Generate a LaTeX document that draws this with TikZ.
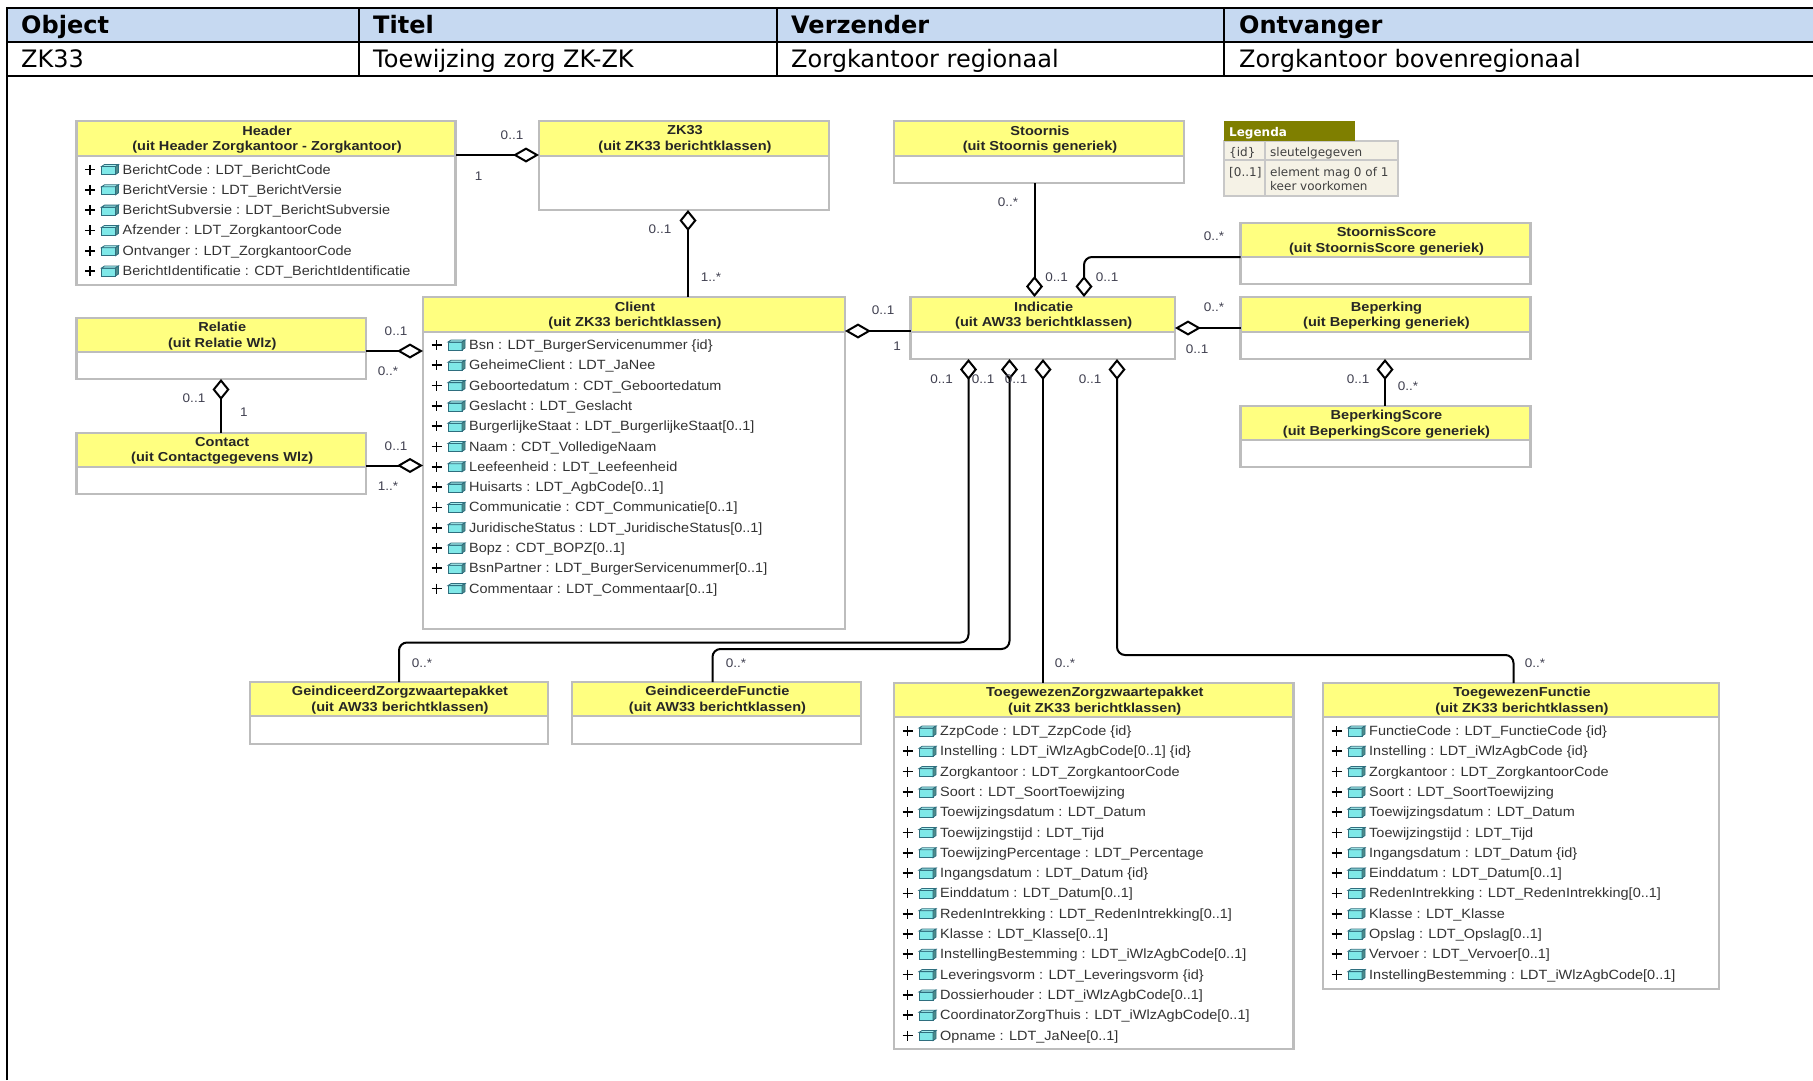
\documentclass[tikz,border=0pt]{standalone}
\usepackage{fontspec}
\setmainfont[FakeStretch=1.08,BoldFeatures={FakeStretch=1.12}]{Liberation Sans}
\newfontfamily\tablefont{DejaVu Sans}
\newfontfamily\legendfont{DejaVu Sans}
\usetikzlibrary{arrows.meta}
\definecolor{tblhead}{HTML}{C6D9F1}
\definecolor{classyellow}{HTML}{FFFF80}
\definecolor{classedge}{HTML}{BDBDBD}
\definecolor{legolive}{HTML}{7F7F00}
\definecolor{legcream}{HTML}{F5F2E6}
\definecolor{legedge}{HTML}{C8C8C8}
\definecolor{iconfill}{HTML}{7FE8E8}
\definecolor{iconedge}{HTML}{2F6F7F}
\definecolor{multtext}{HTML}{404050}
\tikzset{
  tblcell/.style={anchor=north west,inner sep=0pt,outer sep=0pt},
  tblhd/.style={anchor=base west,inner sep=0pt,font=\tablefont\fontsize{24}{28}\selectfont\bfseries},
  tbltx/.style={anchor=base west,inner sep=0pt,font=\tablefont\fontsize{24}{28}\selectfont},
  tblrule/.style={line width=2.4pt,black},
  boxbody/.style={draw=classedge,line width=2.2pt,fill=white,anchor=north west,inner sep=0pt,outer sep=0pt},
  boxtitle/.style={draw=classedge,line width=2.2pt,fill=classyellow,anchor=north west,inner sep=0pt,outer sep=0pt},
  boxlabel/.style={inner sep=0pt,align=center,font=\fontsize{13}{15.5}\selectfont\bfseries,text=black!85},
  attrtext/.style={anchor=base west,inner sep=0pt,font=\fontsize{13.4}{15}\selectfont,text=black!80},
  mult/.style={inner sep=0pt,font=\fontsize{12.5}{14}\selectfont,text=multtext},
  conn/.style={line width=2pt,black,rounded corners=8pt},
  aggh/.style={{Diamond[open,fill=white,length=26pt,width=15pt,line width=2pt]}-},
  aggv/.style={{Diamond[open,fill=white,length=21pt,width=17pt,line width=2pt]}-},
  legcell/.style={draw=legedge,line width=1.5pt,fill=legcream,anchor=north west,inner sep=0pt,outer sep=0pt},
  legtext/.style={anchor=base west,inner sep=0pt,font=\legendfont\fontsize{12}{14}\selectfont,text=black!75},
  pics/attricon/.style={code={
    \draw[iconedge,line width=.8pt,fill=iconfill] (0,-3) rectangle (14,5);
    \draw[iconedge,line width=.8pt,fill=iconfill!70!white] (0,-3) -- (3,-5) -- (17,-5) -- (14,-3) -- cycle;
    \draw[iconedge,line width=.8pt,fill=iconfill!60!black] (14,-3) -- (17,-5) -- (17,3) -- (14,5) -- cycle;
  }},
  pics/attrplus/.style={code={
    \draw[black,line width=1.7pt] (-5,0) -- (5,0) (0,-5) -- (0,5);
  }},
}
\newcommand{\umlclass}[8]{%
  \node[boxbody,minimum width={(#3-#2)*1pt},minimum height={(#6-#4)*1pt}] (#1) at (#2,#4) {};
  \node[boxtitle,minimum width={(#3-#2)*1pt},minimum height={(#5-#4)*1pt}] (#1-t) at (#2,#4) {};
  \node[boxlabel] (#1-l) at ({(#2+#3)/2+1},{(#4+#5)/2+1}) {#7\\#8};
}
\newcommand{\attrs}[4]{%
  \foreach \t [count=\n from 0] in {#4} {
    \pgfmathsetmacro\yy{#3+\n*20.3}
    \pic at (#2+13.5,\yy) {attrplus};
    \pic at (#2+25,\yy) {attricon};
    \node[attrtext] (#1-a\n) at (#2+46,\yy+4.5) {\t};
  }
}
\begin{document}
\begin{tikzpicture}[x=1pt,y=-1pt]
\useasboundingbox (0,0) rectangle (1813,1080);
\fill[white] (0,0) rectangle (1813,1080);
% ---- top table
\node[tblcell,fill=tblhead,minimum width=1806pt,minimum height=35pt] (thead) at (7,7) {};
\node[tbltx,tblhd] (t1) at (21,33) {Object};
\node[tbltx,tblhd] (t2) at (373,33) {Titel};
\node[tbltx,tblhd] (t3) at (791,33) {Verzender};
\node[tbltx,tblhd] (t4) at (1239,33) {Ontvanger};
\node[tbltx] (v1) at (21,67) {ZK33};
\node[tbltx] (v2) at (373,67) {Toewijzing zorg ZK-ZK};
\node[tbltx] (v3) at (791,67) {Zorgkantoor regionaal};
\node[tbltx] (v4) at (1239,67) {Zorgkantoor bovenregionaal};
\draw[tblrule] (7,1080) -- (7,8) -- (1813,8);
\draw[tblrule] (7,42) -- (1813,42);
\draw[tblrule] (7,76) -- (1813,76);
\draw[line width=1.8pt] (359,8) -- (359,76);
\draw[line width=1.8pt] (777,8) -- (777,76);
\draw[line width=1.8pt] (1224,8) -- (1224,76);
% ---- classes
\umlclass{hdr}{76.5}{455.5}{121}{156}{285}{Header}{(uit Header Zorgkantoor - Zorgkantoor)}
\umlclass{zk}{539}{829}{121}{156}{210}{ZK33}{(uit ZK33 berichtklassen)}
\umlclass{sto}{894}{1184}{121}{156}{183}{Stoornis}{(uit Stoornis generiek)}
\umlclass{sts}{1240.5}{1530.5}{223}{257}{284}{StoornisScore}{(uit StoornisScore generiek)}
\umlclass{bep}{1240.5}{1530.5}{297}{332}{359}{Beperking}{(uit Beperking generiek)}
\umlclass{bps}{1240.5}{1530.5}{406}{440}{467}{BeperkingScore}{(uit BeperkingScore generiek)}
\umlclass{ind}{910.5}{1175}{297}{332}{359}{Indicatie}{(uit AW33 berichtklassen)}
\umlclass{cli}{423}{845}{297}{332}{629}{Client}{(uit ZK33 berichtklassen)}
\umlclass{rel}{76.5}{366}{318}{352}{379}{Relatie}{(uit Relatie Wlz)}
\umlclass{con}{76.5}{366}{433}{467}{494}{Contact}{(uit Contactgegevens Wlz)}
\umlclass{gzz}{250}{548}{682}{716}{744}{GeindiceerdZorgzwaartepakket}{(uit AW33 berichtklassen)}
\umlclass{gfu}{572}{861}{682}{716}{744}{GeindiceerdeFunctie}{(uit AW33 berichtklassen)}
\umlclass{tzz}{894}{1293.5}{683}{717}{1049}{ToegewezenZorgzwaartepakket}{(uit ZK33 berichtklassen)}
\umlclass{tfu}{1323}{1719}{683}{717}{989}{ToegewezenFunctie}{(uit ZK33 berichtklassen)}
% ---- attributes
\attrs{hdr}{76.5}{169.5}{
  {BerichtCode : LDT\_BerichtCode},
  {BerichtVersie : LDT\_BerichtVersie},
  {BerichtSubversie : LDT\_BerichtSubversie},
  {Afzender : LDT\_ZorgkantoorCode},
  {Ontvanger : LDT\_ZorgkantoorCode},
  {BerichtIdentificatie : CDT\_BerichtIdentificatie}}
\attrs{cli}{423}{345}{
  {Bsn : LDT\_BurgerServicenummer \{id\}},
  {GeheimeClient : LDT\_JaNee},
  {Geboortedatum : CDT\_Geboortedatum},
  {Geslacht : LDT\_Geslacht},
  {BurgerlijkeStaat : LDT\_BurgerlijkeStaat[0..1]},
  {Naam : CDT\_VolledigeNaam},
  {Leefeenheid : LDT\_Leefeenheid},
  {Huisarts : LDT\_AgbCode[0..1]},
  {Communicatie : CDT\_Communicatie[0..1]},
  {JuridischeStatus : LDT\_JuridischeStatus[0..1]},
  {Bopz : CDT\_BOPZ[0..1]},
  {BsnPartner : LDT\_BurgerServicenummer[0..1]},
  {Commentaar : LDT\_Commentaar[0..1]}}
\attrs{tzz}{894}{731}{
  {ZzpCode : LDT\_ZzpCode \{id\}},
  {Instelling : LDT\_iWlzAgbCode[0..1] \{id\}},
  {Zorgkantoor : LDT\_ZorgkantoorCode},
  {Soort : LDT\_SoortToewijzing},
  {Toewijzingsdatum : LDT\_Datum},
  {Toewijzingstijd : LDT\_Tijd},
  {ToewijzingPercentage : LDT\_Percentage},
  {Ingangsdatum : LDT\_Datum \{id\}},
  {Einddatum : LDT\_Datum[0..1]},
  {RedenIntrekking : LDT\_RedenIntrekking[0..1]},
  {Klasse : LDT\_Klasse[0..1]},
  {InstellingBestemming : LDT\_iWlzAgbCode[0..1]},
  {Leveringsvorm : LDT\_Leveringsvorm \{id\}},
  {Dossierhouder : LDT\_iWlzAgbCode[0..1]},
  {CoordinatorZorgThuis : LDT\_iWlzAgbCode[0..1]},
  {Opname : LDT\_JaNee[0..1]}}
\attrs{tfu}{1323}{731}{
  {FunctieCode : LDT\_FunctieCode \{id\}},
  {Instelling : LDT\_iWlzAgbCode \{id\}},
  {Zorgkantoor : LDT\_ZorgkantoorCode},
  {Soort : LDT\_SoortToewijzing},
  {Toewijzingsdatum : LDT\_Datum},
  {Toewijzingstijd : LDT\_Tijd},
  {Ingangsdatum : LDT\_Datum \{id\}},
  {Einddatum : LDT\_Datum[0..1]},
  {RedenIntrekking : LDT\_RedenIntrekking[0..1]},
  {Klasse : LDT\_Klasse},
  {Opslag : LDT\_Opslag[0..1]},
  {Vervoer : LDT\_Vervoer[0..1]},
  {InstellingBestemming : LDT\_iWlzAgbCode[0..1]}}
% ---- legend
\node[legcell,minimum width=41pt,minimum height=19pt] (lc1) at (1224,141) {};
\node[legcell,minimum width=133pt,minimum height=19pt] (lc2) at (1265,141) {};
\node[legcell,minimum width=41pt,minimum height=36pt] (lc3) at (1224,160) {};
\node[legcell,minimum width=133pt,minimum height=36pt] (lc4) at (1265,160) {};
\node[anchor=north west,fill=legolive,inner sep=0pt,minimum width=131pt,minimum height=20pt] (lt) at (1224,121) {};
\node[legtext,text=white,font=\legendfont\fontsize{12}{14}\selectfont\bfseries] (ltt) at (1229,136) {Legenda};
\node[legtext] (l1) at (1229,156) {\{id\}};
\node[legtext] (l2) at (1270,156) {sleutelgegeven};
\node[legtext] (l3) at (1229,176) {[0..1]};
\node[legtext] (l4) at (1270,176) {element mag 0 of 1};
\node[legtext] (l5) at (1270,190) {keer voorkomen};
% ---- connectors
\coordinate (r1) at (968.5,642.5);
\coordinate (r2) at (1009.5,649);
\coordinate (r3) at (1117,655);
\coordinate (r4) at (1084,257);
\draw[conn,aggh] (zk.west |- 0,155) -- (hdr.east |- 0,155);
\draw[conn,aggv] (zk.south -| 688,0) -- (cli.north -| 688,0);
\draw[conn,aggv] (ind.north -| 1034.5,0) -- (sto.south -| 1034.5,0);
\draw[conn,aggv] (ind.north -| r4) -- (r4) -- (sts.west |- r4);
\draw[conn,aggh] (ind.east |- 0,328) -- (bep.west |- 0,328);
\draw[conn,aggh] (cli.east |- 0,331) -- (ind.west |- 0,331);
\draw[conn,aggv] (bep.south -| 1385,0) -- (bps.north -| 1385,0);
\draw[conn,aggh] (cli.west |- 0,351) -- (rel.east |- 0,351);
\draw[conn,aggh] (cli.west |- 0,465.5) -- (con.east |- 0,465.5);
\draw[conn,aggv] (rel.south -| 221,0) -- (con.north -| 221,0);
\draw[conn,aggv] (ind.south -| r1) -- (r1) -- (r1 -| 399,0) -- (gzz.north -| 399,0);
\draw[conn,aggv] (ind.south -| r2) -- (r2) -- (r2 -| 712.5,0) -- (gfu.north -| 712.5,0);
\draw[conn,aggv] (ind.south -| 1043,0) -- (tzz.north -| 1043,0);
\draw[conn,aggv] (ind.south -| r3) -- (r3) -- (r3 -| 1513.5,0) -- (tfu.north -| 1513.5,0);
% ---- multiplicities
\node[mult] (m1) at (512,135) {0..1};
\node[mult] (m2) at (478.5,176) {1};
\node[mult] (m3) at (660,229) {0..1};
\node[mult] (m4) at (711,277) {1..*};
\node[mult] (m5) at (1008,202) {0..*};
\node[mult] (m6) at (1056.5,277) {0..1};
\node[mult] (m7) at (1214,236) {0..*};
\node[mult] (m8) at (1107,277) {0..1};
\node[mult] (m9) at (1214,307) {0..*};
\node[mult] (m10) at (1197,349) {0..1};
\node[mult] (m11) at (883,310) {0..1};
\node[mult] (m12) at (897,346) {1};
\node[mult] (m13) at (1358,379) {0..1};
\node[mult] (m14) at (1408,386) {0..*};
\node[mult] (m15) at (941.5,379) {0..1};
\node[mult] (m16) at (983,379) {0..1};
\node[mult] (m17) at (1016,379) {0..1};
\node[mult] (m18) at (1090,379) {0..1};
\node[mult] (m19) at (422,663) {0..*};
\node[mult] (m20) at (736,663) {0..*};
\node[mult] (m21) at (1065,663) {0..*};
\node[mult] (m22) at (1535,663) {0..*};
\node[mult] (m23) at (396,331) {0..1};
\node[mult] (m24) at (388,371) {0..*};
\node[mult] (m25) at (396,446) {0..1};
\node[mult] (m26) at (388,486) {1..*};
\node[mult] (m27) at (194,398) {0..1};
\node[mult] (m28) at (244,412) {1};
\end{tikzpicture}
\end{document}
